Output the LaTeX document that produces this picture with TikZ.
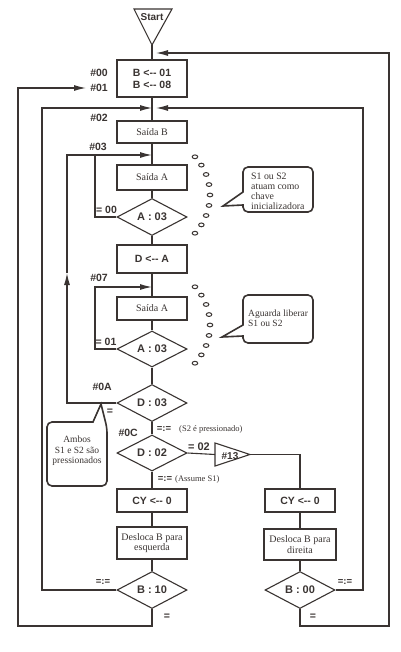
\documentclass[tikz,border=0pt]{standalone}
\usepackage{fontspec}
\setmainfont{Liberation Serif}
\setsansfont{Liberation Sans}
\usetikzlibrary{shapes.geometric,arrows.meta,calc}
\definecolor{ink}{RGB}{58,52,50}
\begin{document}
\begin{tikzpicture}[x=1pt,y=-1pt,
  line/.style={draw=ink,line width=1.1pt},
  arr/.style={line,-{Latex[length=12pt,width=6pt]}},
  box/.style={draw=ink,line width=1.1pt,minimum width=70pt,inner sep=0pt,text=ink,align=center},
  sbox/.style={box,font=\sffamily\bfseries\fontsize{10.5}{12}\selectfont},
  rbox/.style={box,font=\fontsize{10}{10.5}\selectfont},
  dec/.style={diamond,aspect=2,draw=ink,line width=1.1pt,inner sep=0pt,minimum width=70pt,minimum height=37pt,text=ink,font=\sffamily\bfseries\fontsize{11}{13}\selectfont},
  lbl/.style={font=\sffamily\bfseries\fontsize{10.5}{12}\selectfont,text=ink,inner sep=0pt},
  note/.style={font=\fontsize{8.5}{10}\selectfont,text=ink,inner sep=0pt},
  ctext/.style={font=\fontsize{9.8}{10}\selectfont,text=ink,inner sep=0pt},
  callout/.style={draw=ink,line width=1.6pt,fill=white},
  bubble/.style={ellipse,draw=ink,line width=1pt,minimum width=5.5pt,minimum height=3.8pt,inner sep=0pt}]
\useasboundingbox (0,0) rectangle (400,652);
\fill[white] (0,0) rectangle (400,652);

% Start triangle
\coordinate (st) at (152,45);
\draw[line] (134,9) -- (172,9) -- (st) -- cycle;
\node[lbl,font=\sffamily\bfseries\fontsize{10}{12}\selectfont] (start) at (152,17) {Start};

% main column
\node[sbox,minimum height=37pt] (b1) at (152,78.5) {B <-{}- 01\\B <-{}- 08};
\node[rbox,minimum height=22pt] (sb) at (152,132) {Saída B};
\node[rbox,minimum height=25pt] (sa1) at (152,177.5) {Saída A};
\node[dec] (d1) at (152,217) {A : 03};
\node[sbox,minimum height=28pt] (da) at (152,259) {D <-{}- A};
\node[rbox,minimum height=23pt] (sa2) at (152,308.5) {Saída A};
\node[dec,minimum height=36pt] (d2) at (152,349) {A : 03};
\node[dec] (d3) at (152,403) {D : 03};
\node[dec,minimum height=36pt] (d4) at (152,453) {D : 02};
\node[sbox,minimum height=23pt] (cyl) at (152,500.5) {CY <-{}- 0};
\node[rbox,minimum height=32pt] (dl) at (152,543) {Desloca B para\\esquerda};
\node[dec] (d5) at (152,590) {B : 10};

% right column
\node[sbox,minimum height=23pt] (cyr) at (300,500.5) {CY <-{}- 0};
\node[rbox,minimum height=31pt,minimum width=72pt] (dr) at (300,544.5) {Desloca B para\\direita};
\node[dec] (d6) at (300,590) {B : 00};

% #13 triangle
\coordinate (t13w) at (215,454.5);
\coordinate (t13a) at (250,454.5);
\draw[line] (215,443) -- (t13a) -- (215,466) -- cycle;
\node[lbl,font=\sffamily\bfseries\fontsize{10}{12}\selectfont] (t13) at (230,456) {\#13};

% junction coordinates
\coordinate (j1) at (152,53);
\coordinate (j2) at (152,108);
\coordinate (j3) at (152,155);
\coordinate (j4) at (152,287);
\coordinate (e01) at (86,88);
\coordinate (mup) at (67,273);

% main flow lines
\draw[line] (st) -- (b1.north);
\draw[line] (b1.south) -- (sb.north);
\draw[line] (sb.south) -- (sa1.north);
\draw[line] (sa1.south) -- (d1.north);
\draw[line] (d1.south) -- (da.north);
\draw[line] (da.south) -- (sa2.north);
\draw[line] (sa2.south) -- (d2.north);
\draw[line] (d2.south) -- (d3.north);
\draw[line] (d3.south) -- (d4.north);
\draw[line] (d4.south) -- (cyl.north);
\draw[line] (cyl.south) -- (dl.north);
\draw[line] (dl.south) -- (d5.north);
\draw[line] (cyr.south) -- (dr.north);
\draw[line] (dr.south) -- (d6.north);
\draw[line] (d4.east) -- (t13w);
\draw[line] (t13a) -| (cyr.north);

% loops
\draw[line] (d1.west) -- (95,217) -- (95,155);
\draw[arr] (d2.west) -- (95,349) -- (95,287) -- (j4);
\draw[arr] (d3.west) -- (67,403) -- (mup);
\draw[arr] (mup) -- (67,155) -- (j3);
\draw[arr] (d5.west) -- (42,590) -- (42,108) -- (j2);
\draw[arr] (d5.south) -- (152,626) -- (18,626) -- (18,88) -- (e01);
\draw[arr,shorten >=4pt] (d6.east) -- (363,590) -- (363,108) -- (j2);
\draw[arr,shorten >=4pt] (d6.south) -- (300,626) -- (389,626) -- (389,53) -- (j1);

% labels
\node[lbl,anchor=east] (l00) at (108,73) {\#00};
\node[lbl,anchor=east] (l01) at (108,88) {\#01};
\node[lbl,anchor=east] (l02) at (108,118) {\#02};
\node[lbl,anchor=east] (l03) at (107,147) {\#03};
\node[lbl,anchor=east] (l07) at (108,278) {\#07};
\node[lbl,anchor=east] (l0a) at (112,387) {\#0A};
\node[lbl,anchor=east] (l0c) at (138,433) {\#0C};
\node[lbl] (e00) at (106.5,210) {= 00};
\node[lbl] (e01l) at (106,342) {= 01};
\node[lbl] (eq3) at (110,412) {=};
\node[lbl,font=\sffamily\bfseries\fontsize{9.5}{11}\selectfont] (ne3) at (164,429) {=:=};
\node[note,anchor=west] (s2p) at (179,429.5) {(S2 é pressionado)};
\node[lbl,font=\sffamily\bfseries\fontsize{11}{13}\selectfont] (e02) at (199,447) {= 02};
\node[lbl,font=\sffamily\bfseries\fontsize{9.5}{11}\selectfont] (ne4) at (165,479) {=:=};
\node[note,anchor=west] (as1) at (175,479.5) {(Assume S1)};
\node[lbl,font=\sffamily\bfseries\fontsize{9.5}{11}\selectfont] (ne5) at (103,582) {=:=};
\node[lbl] (eq5) at (167,617) {=};
\node[lbl,font=\sffamily\bfseries\fontsize{9.5}{11}\selectfont] (ne6) at (345,582) {=:=};
\node[lbl] (eq6) at (313,617) {=};

% bubbles
\foreach \a in {-43,-32.25,...,43} {
  \node[bubble] at ($(154,195)+(\a:56)$) {};
  \node[bubble] at ($(154,325)+(\a:56)$) {};
}

% callouts
\draw[callout] (243,192) [rounded corners=5pt] -- (243,167) -- (313,167) -- (313,212) -- (243,212) [sharp corners] -- (243,205) -- (223,206) -- cycle;
\node[ctext,anchor=west,align=left] (c1) at (251,191.5) {S1 ou S2\\atuam como\\chave\\inicializadora};

\draw[callout] (243,325) [rounded corners=5pt] -- (243,295) -- (313,295) -- (313,343) -- (243,343) [sharp corners] -- (243,336) -- (222,337) -- cycle;
\node[ctext,anchor=west,align=left,font=\fontsize{9.5}{10}\selectfont] (c2) at (248,318) {Aguarda liberar\\S1 ou S2};

\draw[callout] (93,422) [rounded corners=5pt] -- (47,422) -- (47,486) -- (107,486) -- (107,428) [sharp corners] -- (101,404) -- cycle;
\node[ctext,align=center,font=\fontsize{9.5}{10.5}\selectfont] (c3) at (77,451) {Ambos\\S1 e S2 são\\pressionados};
\end{tikzpicture}
\end{document}
